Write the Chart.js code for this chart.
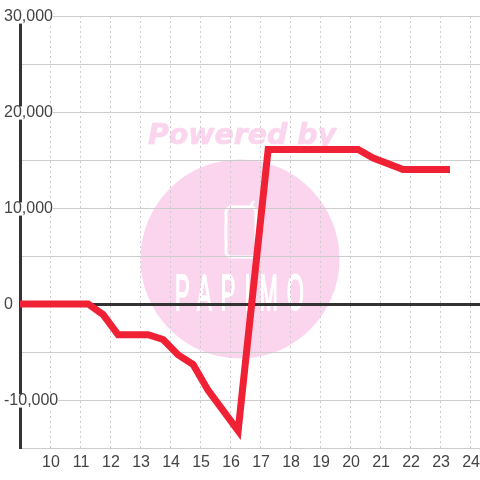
<!DOCTYPE html>
<html>
<head>
<meta charset="utf-8">
<style>
  html, body { margin: 0; padding: 0; background: #fff; }
  canvas { display: block; }
</style>
<script src="https://cdn.jsdelivr.net/npm/chart.js@4"></script>
</head>
<body>
<canvas id="chart" width="480" height="480"></canvas>
<script>
// data
const hours = [8.9, 11.27, 11.77, 12.27, 13.27, 13.77, 14.27, 14.77, 15.27, 16.27, 17.27, 20.27, 20.77, 21.77, 23.33];
const values = [0, 0, -1100, -3200, -3200, -3700, -5300, -6300, -9000, -13200, 16100, 16100, 15200, 14000, 14000];
const xTickLabels = ["10", "11", "12", "13", "14", "15", "16", "17", "18", "19", "20", "21", "22", "23", "24"];
const yTickLabels = { "30000": "30,000", "20000": "20,000", "10000": "10,000", "0": "0", "-10000": "-10,000" };

const font = { family: "'Liberation Sans', Arial, sans-serif", size: 16 };
const textColor = "#444";

// ウォーターマーク
const watermark = {
  id: "watermark",
  beforeDraw(chart) {
    const ctx = chart.ctx;
    ctx.save();
    ctx.fillStyle = "#fff";
    ctx.fillRect(0, 0, 480, 480);

    ctx.fillStyle = "#fbd5ee";
    ctx.strokeStyle = "#fbd5ee";
    ctx.beginPath();
    ctx.arc(240, 259, 99.5, 0, Math.PI * 2);
    ctx.fill();

    ctx.font = "italic bold 28.4px 'DejaVu Sans'";
    ctx.textAlign = "center";
    ctx.textBaseline = "alphabetic";
    ctx.lineWidth = 0.7;
    ctx.fillText("Powered by", 242, 144);
    ctx.strokeText("Powered by", 242, 144);

    // icon
    ctx.strokeStyle = "#fff";
    ctx.lineWidth = 3;
    ctx.beginPath();
    ctx.roundRect(226, 207, 30, 50, 5);
    ctx.moveTo(250, 207);
    ctx.lineTo(254, 201);
    ctx.stroke();

    // logo text
    ctx.fillStyle = "#fff";
    ctx.font = "22px 'Liberation Sans'";
    ctx.letterSpacing = "9px";
    ctx.lineWidth = 0.8;
    ctx.translate(240, 310);
    ctx.scale(1, 2.25);
    ctx.fillText("PAPIMO", 4, 0);
    ctx.strokeText("PAPIMO", 4, 0);
    ctx.restore();
  },
};

new Chart(document.getElementById("chart"), {
  type: "line",
  data: {
    datasets: [
      {
        data: hours.map((h, i) => ({ x: h, y: values[i] })),
        borderColor: "#f02035",
        borderWidth: 7,
        borderJoinStyle: "miter",
        pointRadius: 0,
        tension: 0,
      },
    ],
  },
  options: {
    responsive: false,
    animation: false,
    layout: { padding: { top: 16 } },
    plugins: { legend: { display: false }, tooltip: { enabled: false } },
    scales: {
      x: {
        type: "linear",
        min: 9,
        max: 24.33,
        afterFit: (scale) => {
          scale.height = 32;
          // 24のラベル分の余白を消す
          scale.paddingLeft = 0;
          scale.paddingRight = 0;
        },
        grid: { color: "#ccc", lineWidth: 1, drawTicks: false },
        border: { display: false, dash: [2, 3] },
        ticks: {
          stepSize: 1,
          includeBounds: false,
          autoSkip: false,
          maxRotation: 0,
          padding: 5,
          labelOffset: 1,
          color: textColor,
          font,
          callback: (v) => xTickLabels[v - 10] ?? "",
        },
      },
      y: {
        min: -15000,
        max: 30000,
        afterFit: (scale) => {
          scale.width = 20;
        },
        grid: {
          drawTicks: false,
          color: (c) => (c.tick.value === 0 ? "#333" : "#ccc"),
          lineWidth: (c) => (c.tick.value === 0 ? 3 : 1),
        },
        border: { color: "#333", width: 3 },
        ticks: {
          stepSize: 5000,
          autoSkip: false,
          mirror: true,
          padding: -16,
          labelOffset: 1,
          color: textColor,
          font,
          showLabelBackdrop: true,
          backdropColor: "#fff",
          backdropPadding: { top: -3, bottom: -3, left: 0, right: 0 },
          callback: (v) => yTickLabels[v] ?? "",
        },
      },
    },
  },
  plugins: [watermark],
});
</script>
</body>
</html>
